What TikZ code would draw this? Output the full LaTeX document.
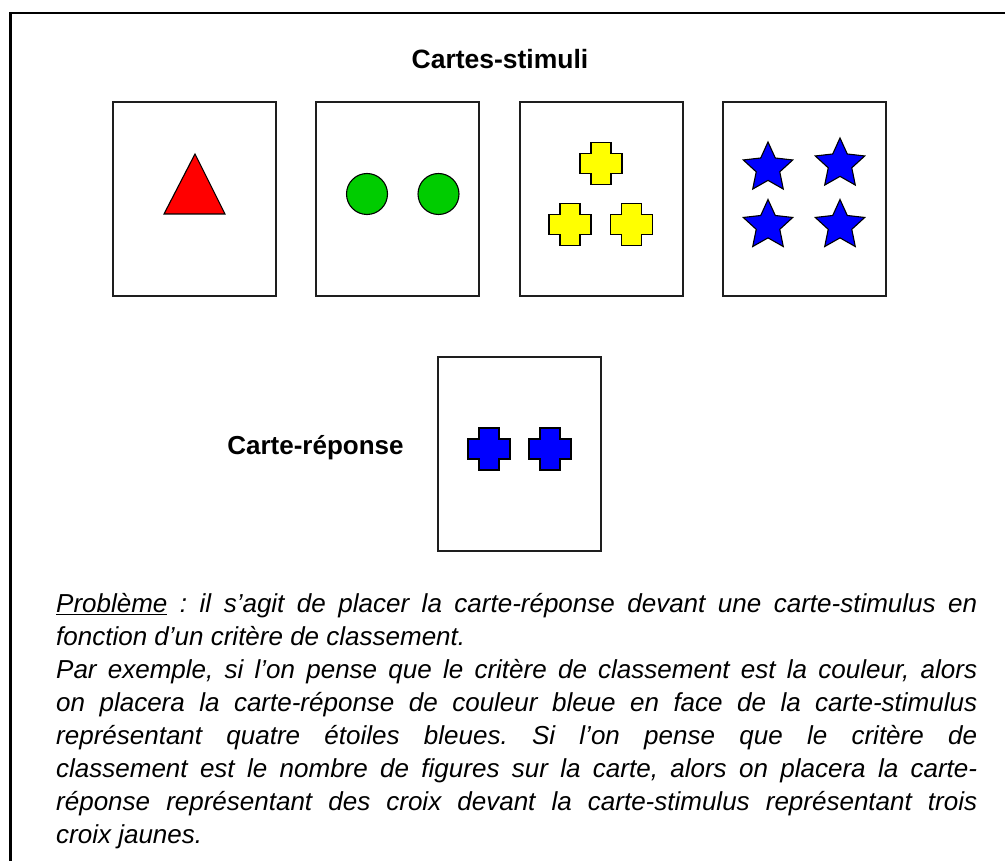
\documentclass[tikz,border=0pt]{standalone}
\usepackage{fontspec}
\setmainfont{Liberation Sans}
\usepackage{tikz}
\usetikzlibrary{
    shapes.geometric,
    positioning
}
\definecolor{cardline}{RGB}{30,30,30}
\definecolor{redshape}{RGB}{255,0,0}
\definecolor{greenshape}{RGB}{0,204,0}
\definecolor{yellowshape}{RGB}{255,255,0}
\definecolor{blueshape}{RGB}{0,0,255}
\frenchspacing
\begin{document}
\begin{tikzpicture}[x=1pt, y=-1pt,
    card/.style={draw=cardline, line width=1.6pt, minimum width=163pt, minimum height=194pt, inner sep=0pt},
    figure/.style={draw=black, line width=1.1pt},
    rond/.style={figure, circle, minimum size=41pt, inner sep=0pt, fill=greenshape},
    etoile/.style={figure, star, star points=5, star point ratio=2.1, minimum size=52pt, inner sep=0pt, fill=blueshape},
    croix/.pic={
        \draw[figure, fill=#1] (-10,-21) -- (10,-21) -- (10,-10) -- (21,-10) -- (21,10) -- (10,10)
            -- (10,21) -- (-10,21) -- (-10,10) -- (-21,10) -- (-21,-10) -- (-10,-10) -- cycle;
    }]
    \useasboundingbox (0,0) rectangle (1005,861);

    % Frame
    \draw[line width=2.2pt] (10.5,861) -- (10.5,13) -- (1005,13);

    % Title
    \node[font=\bfseries\fontsize{26.5}{30}\selectfont, anchor=base] (titre) at (500,69) {Cartes-stimuli};

    % Stimulus cards
    \foreach \i/\x in {1/194.5,2/397.5,3/601.5,4/804.5} {
        \node[card] (s\i) at (\x,199) {};
    }

    % Card 1: red triangle
    \begin{scope}[shift={(s1.center)}]
        \draw[figure, fill=redshape] (0.5,-45) -- (30.5,15) -- (-30.5,15) -- cycle;
    \end{scope}

    % Card 2: two green circles
    \begin{scope}[shift={(s2.center)}]
        \node[rond] (rond1) at (-30.5,-5) {};
        \node[rond] (rond2) at (41,-5) {};
    \end{scope}

    % Card 3: three yellow crosses
    \begin{scope}[shift={(s3.center)}]
        \pic at (-0.5,-35.5) {croix=yellowshape};
        \pic at (-31.5,25.7) {croix=yellowshape};
        \pic at (30.2,25.7) {croix=yellowshape};
    \end{scope}

    % Card 4: four blue stars
    \begin{scope}[shift={(s4.center)}]
        \foreach \x/\y [count=\k] in {-36.5/-31, 35.5/-35, -36.5/26.5, 35.5/26.5} {
            \node[etoile] (etoile\k) at (\x,\y) {};
        }
    \end{scope}

    % Response card
    \node[card] (reponse) at (519.5,454) {};
    \node[font=\bfseries\fontsize{26}{30}\selectfont, anchor=base] (legende) at (315.5,454) {Carte-réponse};
    \begin{scope}[shift={(reponse.center)}]
        \pic at (-30.5,-5) {croix=blueshape};
        \pic at (30.5,-5) {croix=blueshape};
    \end{scope}

    % Caption text
    \node[anchor=north west, inner sep=0pt, text width=921pt, align=justify,
          font=\itshape\fontsize{26}{33}\selectfont] (probleme) at (56,593.5)
        {\hyphenpenalty=10000
        \underline{Problème} : il s’agit de placer la carte-réponse devant une carte-stimulus en\linebreak
        fonction d’un critère de classement.\\
        Par exemple, si l’on pense que le critère de classement est la couleur, alors\linebreak
        on placera la carte-réponse de couleur bleue en face de la carte-stimulus\linebreak
        représentant quatre étoiles bleues. Si l’on pense que le critère de\linebreak
        classement est le nombre de figures sur la carte, alors on placera la carte-\linebreak
        réponse représentant des croix devant la carte-stimulus représentant trois\linebreak
        croix jaunes.};
\end{tikzpicture}
\end{document}
